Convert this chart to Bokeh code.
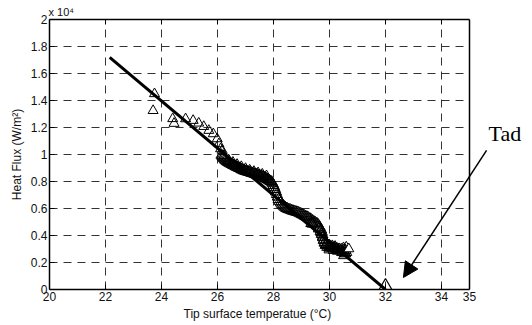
from bokeh.plotting import figure
from bokeh.models import (FixedTicker, CustomJSTickFormatter, LinearAxis, Range1d,
                          Arrow, NormalHead, Label, Span, Title)
from bokeh.embed import file_html
from bokeh.resources import INLINE

# ---- data (temperature in degC, heat flux in W/m^2) ----
sparse_t = [23.75, 23.70, 24.40, 24.45, 24.86, 25.13, 25.33, 25.51, 25.69, 25.85,
            25.99, 26.05, 26.11, 26.17, 26.23]
sparse_q = [14500, 13250, 12650, 12300, 12640, 12520, 12320, 12070, 11780, 11530,
            11160, 10790, 10420, 10300, 9930]

band_t = [26.14, 26.17, 26.20, 26.23, 26.26, 26.29, 26.33, 26.37, 26.41, 26.45,
          26.50, 26.54, 26.58, 26.62, 26.66, 26.70, 26.74, 26.78, 26.82, 26.86,
          26.90, 26.94, 26.98, 27.02, 27.06, 27.10, 27.14, 27.18, 27.22, 27.26,
          27.30, 27.34, 27.38, 27.42, 27.46, 27.50, 27.54, 27.58, 27.62, 27.66,
          27.70, 27.74, 27.78, 27.82, 27.86, 27.90, 27.94, 27.97, 28.00, 28.03,
          28.06, 28.09, 28.12, 28.15, 28.18, 28.22, 28.26, 28.30, 28.34, 28.38,
          28.42, 28.46, 28.50, 28.55, 28.60, 28.65, 28.70, 28.75, 28.80, 28.85,
          28.90, 28.95, 29.00, 29.05, 29.10, 29.15, 29.20, 29.25, 29.30, 29.35,
          29.40, 29.45, 29.50, 29.55, 29.60, 29.65, 29.70, 29.73, 29.75, 29.77,
          29.79, 29.82, 29.86, 29.92, 29.98, 30.05, 30.12, 30.20, 30.27, 30.35,
          30.42, 30.50, 30.57, 30.55, 30.52, 30.60, 29.35, 29.40, 29.90, 30.00,
          30.10, 30.20, 30.00, 30.15, 30.30, 30.45, 30.50, 30.60,
          26.40, 26.55, 26.70, 26.85, 27.00, 27.15, 27.30, 27.45, 27.60, 27.75,
          29.62, 29.68, 29.72, 29.76, 29.80, 29.84, 29.88, 29.95, 30.02, 30.08,
          30.16, 30.24, 30.32, 30.40, 30.48, 30.56]
band_q = [9960, 9880, 9800, 9710, 9630, 9560, 9490, 9430, 9380, 9330,
          9280, 9230, 9190, 9150, 9100, 9060, 9020, 8980, 8940, 8890,
          8850, 8810, 8780, 8750, 8730, 8700, 8680, 8650, 8620, 8600,
          8570, 8540, 8520, 8490, 8460, 8430, 8400, 8370, 8340, 8300,
          8260, 8210, 8160, 8110, 8060, 8010, 7950, 7850, 7720, 7580,
          7420, 7240, 7050, 6860, 6680, 6540, 6430, 6320, 6220, 6140,
          6070, 6010, 5970, 5930, 5890, 5850, 5810, 5780, 5750, 5720,
          5680, 5630, 5580, 5520, 5460, 5410, 5360, 5300, 5230, 5160,
          5080, 5000, 4940, 4880, 4780, 4620, 4430, 4250, 4050, 3850,
          3650, 3450, 3280, 3140, 3100, 3070, 3050, 3030, 3010, 2980,
          2950, 2910, 2890, 2700, 2520, 2750, 4900, 4850, 3300, 3250,
          3200, 3150, 2950, 2900, 2850, 2750, 3050, 3100,
          9550, 9380, 9220, 9060, 8920, 8800, 8700, 8600, 8500, 8380,
          4500, 4300, 4100, 3900, 3700, 3500, 3350, 3250, 3180, 3120,
          3080, 3000, 2950, 2880, 2800, 2650]

end_t = [30.69]
end_q = [3010]

fit_t = [22.15, 32.0]
fit_q = [17200, 0]

tad_t = [32.0]
tad_q = [0]

x_ticks = [20, 22, 24, 26, 28, 30, 32, 34, 35]
y_ticks = [0, 2000, 4000, 6000, 8000, 10000, 12000, 14000, 16000, 18000, 20000]
x_lo, x_hi = 20, 35
y_lo, y_hi = 0, 20000

FONT = "Liberation Sans"

p = figure(width=532, height=325, x_range=Range1d(20, 37.25), y_range=Range1d(y_lo, y_hi),
           output_backend="svg", toolbar_location=None,
           min_border_left=49, min_border_right=0, min_border_top=19, min_border_bottom=36)
p.background_fill_color = "white"
p.border_fill_color = "white"
p.outline_line_color = None

p.title.text = "x 10⁴"
p.title.align = "left"
p.title.text_font = FONT
p.title.text_font_size = "11px"
p.title.text_font_style = "normal"
p.title.text_color = "#111111"
p.title.standoff = 3
p.title.offset = -1

top_ax = LinearAxis()
p.add_layout(top_ax, "above")

blank = CustomJSTickFormatter(code="return ''")
yfmt = CustomJSTickFormatter(code="return String(tick/10000)")

for ax in [p.below[0], top_ax]:
    ax.ticker = FixedTicker(ticks=x_ticks)
    ax.bounds = (x_lo, x_hi)
p.left[0].ticker = FixedTicker(ticks=y_ticks)

for ax in [p.below[0], top_ax, p.left[0]]:
    ax.major_tick_in = 5
    ax.major_tick_out = 0
    ax.minor_tick_line_color = None
    ax.axis_line_color = "black"
    ax.axis_line_width = 1.5
    ax.major_tick_line_color = "black"
    ax.major_tick_line_width = 1
    ax.major_label_text_font = FONT
    ax.major_label_text_font_size = "12px"
    ax.major_label_text_color = "#111111"
    ax.axis_label_text_font = FONT
    ax.axis_label_text_font_size = "12px"
    ax.axis_label_text_font_style = "normal"
    ax.axis_label_text_color = "#111111"
    ax.major_label_standoff = 2
    ax.axis_label_standoff = 3

top_ax.formatter = blank
top_ax.major_label_text_font_size = "0px"
top_ax.major_label_standoff = 0
p.left[0].formatter = yfmt
p.left[0].axis_label = "Heat Flux (W/m²)"
p.left[0].axis_label_standoff = 4

# x-axis label, centred under the 20..35 axis box (the frame extends further right)
p.add_layout(Title(text="Tip surface temperatue (°C)", align="left", offset=134,
                   text_font=FONT, text_font_size="12px", text_font_style="normal",
                   text_color="#111111", standoff=2), "below")

for g in [p.xgrid[0], p.ygrid[0]]:
    g.grid_line_color = "#333333"
    g.grid_line_dash = "8 6"
    g.grid_line_width = 1
p.xgrid[0].ticker = FixedTicker(ticks=x_ticks[1:-1])
p.ygrid[0].ticker = FixedTicker(ticks=y_ticks)
# horizontal grid lines only across the 20..35 box
if "cross_bounds" in p.ygrid[0].properties():
    p.ygrid[0].cross_bounds = (x_lo, x_hi)
else:
    p.ygrid[0].bounds = (x_lo, x_hi)

# right edge of the axes box
p.add_layout(Span(location=x_hi, dimension="height", line_color="black", line_width=1.5))

# data markers
p.scatter(sparse_t, sparse_q, marker="triangle", size=10, fill_color=None,
          line_color="black", line_width=1)
p.scatter(band_t, band_q, marker="triangle", size=11, fill_color=None,
          line_color="black", line_width=1)
p.scatter(end_t, end_q, marker="triangle", size=10, fill_color="white",
          line_color="black", line_width=1)
# fitted line
p.line(fit_t, fit_q, line_color="black", line_width=3)
# Tad point
p.scatter(tad_t, tad_q, marker="triangle", size=19, fill_color=None,
          line_color="black", line_width=1.2)

# annotations
p.add_layout(Label(x=35.68, y=11560, text="Tad", text_font="Liberation Serif",
                   text_font_size="22px", text_color="black",
                   text_baseline="alphabetic"))
p.add_layout(Arrow(end=NormalHead(size=15, fill_color="black", line_color="black"),
                   x_start=35.61, y_start=10300, x_end=32.64, y_end=890,
                   line_width=1.5, line_color="black"))

open("out.html", "w").write(file_html(p, INLINE))
